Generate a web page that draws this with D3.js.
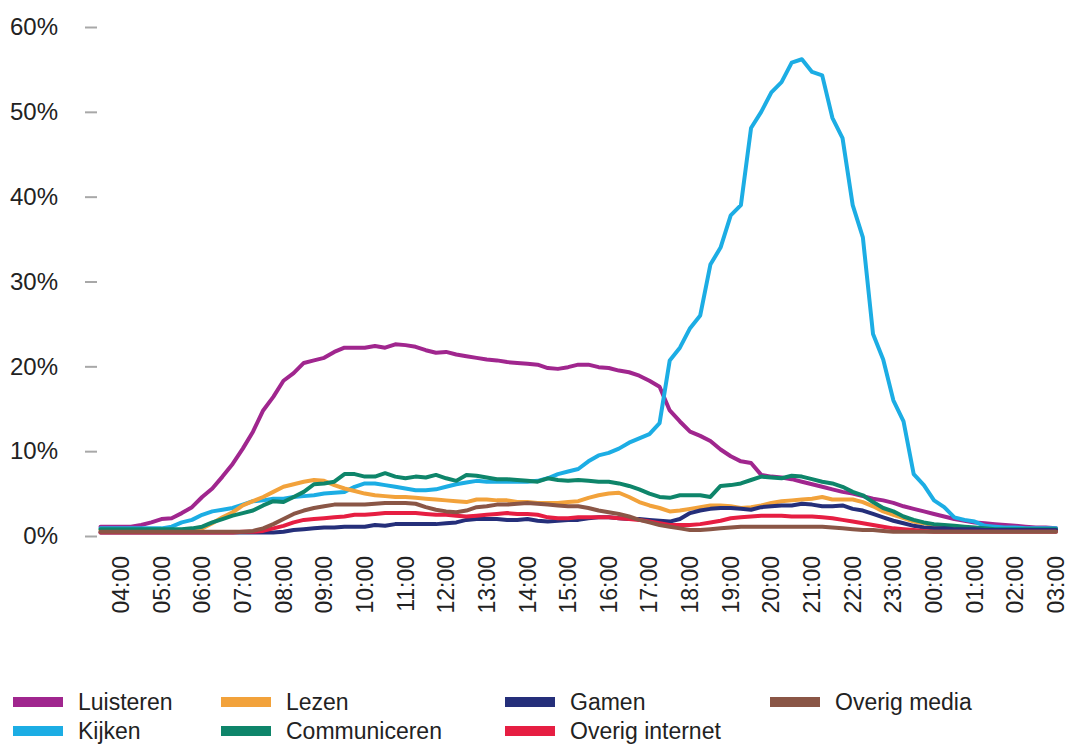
<!DOCTYPE html>
<html>
<head>
<meta charset="utf-8">
<script src="https://cdn.jsdelivr.net/npm/d3@7"></script>
<style>
    html, body { margin: 0; padding: 0; background: #fff; }
    svg { display: block; font-family: "Liberation Sans", Arial, sans-serif; }
</style>
</head>
<body>
<svg id="chart" width="1069" height="747"></svg>
<script>
// quarter-hour slots from 03:30 to 03:00 next day (hours, continuing past 24)
const START_HOUR = 3.5;
const STEP = 0.25;

const tickHours = [4, 5, 6, 7, 8, 9, 10, 11, 12, 13, 14, 15, 16, 17, 18, 19, 20, 21, 22, 23, 24, 25, 26, 27];
const tickLabels = ['04:00', '05:00', '06:00', '07:00', '08:00', '09:00', '10:00', '11:00', '12:00', '13:00',
    '14:00', '15:00', '16:00', '17:00', '18:00', '19:00', '20:00', '21:00', '22:00', '23:00',
    '00:00', '01:00', '02:00', '03:00'];
const yTicks = [0, 0.1, 0.2, 0.3, 0.4, 0.5, 0.6];

// percentages per quarter hour
const luisteren = [1.1, 1.1, 1.1, 1.1,
    1.3, 1.6, 2.0, 2.1, 2.7, 3.4, 4.6, 5.6, 7.0, 8.5,
    10.3, 12.3, 14.8, 16.4, 18.3, 19.2, 20.4, 20.7, 21.0, 21.7,
    22.2, 22.2, 22.2, 22.4, 22.2, 22.6, 22.5, 22.3, 21.9, 21.6,
    21.7, 21.4, 21.2, 21.0, 20.8, 20.7, 20.5, 20.4, 20.3, 20.2,
    19.8, 19.7, 19.9, 20.2, 20.2, 19.9, 19.8, 19.5, 19.3, 18.9,
    18.3, 17.6, 14.8, 13.5, 12.3, 11.8, 11.2, 10.2, 9.4, 8.8,
    8.6, 7.2, 7.0, 6.9, 6.7, 6.4, 6.1, 5.8, 5.5, 5.2,
    5.0, 4.7, 4.4, 4.2, 3.9, 3.5, 3.2, 2.9, 2.6, 2.3,
    2.0, 1.8, 1.6, 1.5, 1.4, 1.3, 1.2, 1.1, 1.0, 1.0, 0.9];
const kijken = [0.9, 0.9, 0.9, 0.9, 0.9, 0.9, 0.9,
    1.1, 1.6, 1.9, 2.5, 2.9, 3.1, 3.3,
    3.7, 4.1, 4.2, 4.4, 4.4, 4.6, 4.7, 4.8, 5.0, 5.1,
    5.2, 5.8, 6.2, 6.2, 6.0, 5.8, 5.6, 5.4, 5.4, 5.5,
    5.8, 6.1, 6.3, 6.5, 6.4, 6.4, 6.4, 6.4, 6.4, 6.5,
    6.8, 7.3, 7.6, 7.9, 8.8, 9.5, 9.8, 10.3, 11.0, 11.5,
    12.0, 13.3, 20.7, 22.2, 24.5, 26.0, 32.0, 34.0, 37.8, 39.0,
    48.1, 50.0, 52.3, 53.5, 55.8, 56.2, 54.7, 54.3, 49.3, 46.9,
    39.0, 35.2, 23.8, 20.8, 16.0, 13.5, 7.3, 6.0, 4.2, 3.4,
    2.2, 1.9, 1.7, 1.2, 1.1, 1.0, 1.0, 0.9, 0.9, 0.9, 0.9];
const lezen = [0.7, 0.7, 0.7, 0.7, 0.7, 0.7, 0.7, 0.7, 0.7, 0.7,
    0.9, 1.5, 2.2, 2.8, 3.6, 4.1, 4.6, 5.2, 5.8, 6.1, 6.4, 6.6, 6.5, 6.0,
    5.6, 5.3, 5.0, 4.8, 4.7, 4.6, 4.6, 4.5, 4.4, 4.3,
    4.2, 4.1, 4.0, 4.3, 4.3, 4.2, 4.2, 4.0, 4.0, 3.9,
    3.9, 3.9, 4.0, 4.1, 4.5, 4.8, 5.0, 5.1, 4.6, 4.0,
    3.6, 3.3, 2.9, 3.0, 3.2, 3.4, 3.6, 3.6, 3.5, 3.3,
    3.4, 3.6, 3.9, 4.1, 4.2, 4.3, 4.4, 4.6, 4.3, 4.3,
    4.3, 4.0, 3.5, 2.9, 2.5, 2.1, 1.7, 1.5, 1.3, 1.2,
    1.1, 1.0, 0.9, 0.8, 0.7, 0.7, 0.7, 0.7, 0.7, 0.7, 0.7];
const communiceren = [0.8, 0.8, 0.8, 0.8, 0.8, 0.8, 0.8, 0.8, 0.8, 0.9,
    1.1, 1.6, 2.0, 2.4, 2.7, 3.0, 3.6, 4.1, 4.0, 4.6, 5.2, 6.1, 6.2, 6.4,
    7.3, 7.3, 7.0, 7.0, 7.4, 7.0, 6.8, 7.0, 6.9, 7.2,
    6.8, 6.5, 7.2, 7.1, 6.9, 6.7, 6.7, 6.6, 6.5, 6.4,
    6.8, 6.6, 6.5, 6.6, 6.5, 6.4, 6.4, 6.2, 5.9, 5.5,
    5.0, 4.6, 4.5, 4.8, 4.8, 4.8, 4.6, 5.9, 6.0, 6.2,
    6.6, 7.0, 6.9, 6.8, 7.1, 7.0, 6.7, 6.4, 6.2, 5.8,
    5.2, 4.8, 4.0, 3.3, 2.9, 2.3, 1.9, 1.6, 1.4, 1.3,
    1.2, 1.1, 1.0, 0.9, 0.8, 0.8, 0.8, 0.8, 0.8, 0.8, 0.8];
const gamen = [0.4, 0.4, 0.4, 0.4, 0.4, 0.4, 0.4, 0.4, 0.4, 0.4, 0.4, 0.4, 0.4, 0.4, 0.4, 0.4, 0.4, 0.4,
    0.5, 0.7, 0.8, 0.9, 1.0, 1.0,
    1.1, 1.1, 1.1, 1.3, 1.2, 1.4, 1.4, 1.4, 1.4, 1.4,
    1.5, 1.6, 1.9, 2.0, 2.0, 2.0, 1.9, 1.9, 2.0, 1.8,
    1.7, 1.8, 1.9, 1.9, 2.1, 2.2, 2.2, 2.1, 2.0, 2.0,
    1.9, 1.8, 1.7, 2.0, 2.7, 3.0, 3.2, 3.3, 3.3, 3.2,
    3.1, 3.4, 3.5, 3.6, 3.6, 3.8, 3.7, 3.5, 3.5, 3.6,
    3.2, 3.0, 2.6, 2.2, 1.8, 1.5, 1.2, 1.0, 0.9, 0.9,
    0.8, 0.8, 0.8, 0.7, 0.7, 0.7, 0.7, 0.7, 0.7, 0.7, 0.7];
const overigInternet = [0.4, 0.4, 0.4, 0.4, 0.4, 0.4, 0.4, 0.4, 0.4, 0.4, 0.4, 0.4, 0.4, 0.4,
    0.5, 0.5, 0.6,
    0.9, 1.2, 1.6, 1.9, 2.0, 2.1, 2.2,
    2.3, 2.5, 2.5, 2.6, 2.7, 2.7, 2.7, 2.7, 2.6, 2.5,
    2.5, 2.4, 2.3, 2.4, 2.5, 2.6, 2.7, 2.6, 2.6, 2.5,
    2.2, 2.1, 2.1, 2.2, 2.2, 2.2, 2.2, 2.1, 2.0, 1.9,
    1.7, 1.5, 1.3, 1.3, 1.3, 1.4, 1.6, 1.8, 2.1, 2.2,
    2.3, 2.4, 2.4, 2.4, 2.3, 2.3, 2.3, 2.2, 2.1, 1.9,
    1.7, 1.5, 1.3, 1.1, 0.9, 0.8, 0.7, 0.6, 0.5, 0.5,
    0.5, 0.5, 0.5, 0.5, 0.5, 0.5, 0.5, 0.5, 0.5, 0.5, 0.5];
const overigMedia = [0.5, 0.5, 0.5, 0.5, 0.5, 0.5, 0.5, 0.5, 0.5, 0.5, 0.5, 0.5, 0.5, 0.5, 0.5,
    0.6, 0.9, 1.4, 2.0, 2.6, 3.0, 3.3, 3.5, 3.7,
    3.7, 3.7, 3.7, 3.8, 3.9, 3.9, 3.9, 3.8, 3.4, 3.1,
    2.9, 2.8, 3.0, 3.4, 3.5, 3.7, 3.7, 3.8, 3.9, 3.8,
    3.7, 3.6, 3.5, 3.5, 3.3, 3.0, 2.8, 2.6, 2.3, 1.9,
    1.6, 1.3, 1.1, 0.9, 0.7, 0.7, 0.8, 0.9, 1.0, 1.1,
    1.1, 1.1, 1.1, 1.1, 1.1, 1.1, 1.1, 1.1, 1.0, 0.9,
    0.8, 0.7, 0.7, 0.6, 0.5, 0.5, 0.5, 0.5, 0.5, 0.5,
    0.5, 0.5, 0.5, 0.5, 0.5, 0.5, 0.5, 0.5, 0.5, 0.5, 0.5];

// legend order (column-major), also drawing order
const seriesNames = ['Luisteren', 'Kijken', 'Lezen', 'Communiceren', 'Gamen', 'Overig internet', 'Overig media'];
const seriesValues = [luisteren, kijken, lezen, communiceren, gamen, overigInternet, overigMedia];
const seriesColors = ['#a0268e', '#1cade4', '#f2a23b', '#0e856a', '#252f7a', '#e61e42', '#8a5646'];

const svg = d3.select('#chart');
const FONT_SIZE = 24;
const X_FONT_SIZE = 23;
const LEGEND_FONT_SIZE = 23;

const x = d3.scaleLinear()
    .domain([START_HOUR, 27])
    .range([100.5, 1056]);

const y = d3.scaleLinear()
    .domain([0, 0.6])
    .range([536, 27]);

// y axis: short grey dashes, labels to the left
const yAxis = d3.axisLeft(y)
    .tickValues(yTicks)
    .tickFormat(d3.format('.0%'))
    .tickSize(12)
    .tickPadding(27);

const gy = svg.append('g')
    .attr('transform', 'translate(97,0)')
    .call(yAxis);
gy.select('.domain').remove();
gy.selectAll('.tick line').attr('stroke', '#a8a8a8').attr('stroke-width', 2);
gy.selectAll('.tick text')
    .attr('fill', '#222')
    .style('font-size', FONT_SIZE + 'px')
    .style('font-family', '"Liberation Sans", Arial, sans-serif');

// x axis: rotated hour labels
const xAxis = d3.axisBottom(x)
    .tickValues(tickHours)
    .tickFormat((d, i) => tickLabels[i])
    .tickSize(0);

const gx = svg.append('g')
    .attr('transform', 'translate(0,536)')
    .call(xAxis);
gx.select('.domain').remove();
gx.selectAll('.tick text')
    .attr('fill', '#222')
    .attr('transform', 'rotate(-90)')
    .attr('x', -20)
    .attr('y', 0)
    .attr('dy', '0.33em')
    .style('text-anchor', 'end')
    .style('font-size', X_FONT_SIZE + 'px')
    .style('font-family', '"Liberation Sans", Arial, sans-serif');

// lines
const line = d3.line()
    .x((d, i) => x(START_HOUR + i * STEP))
    .y(d => y(d / 100))
    .curve(d3.curveLinear);

seriesValues.forEach((values, i) => {
    svg.append('path')
        .attr('d', line(values))
        .attr('fill', 'none')
        .attr('stroke', seriesColors[i])
        .attr('stroke-width', 4)
        .attr('stroke-linejoin', 'round')
        .attr('stroke-linecap', 'round');
});

// legend, two rows
const legendCols = [13, 221, 505, 770];
const legendRows = [702, 731];

const legend = svg.append('g');
seriesNames.forEach((name, i) => {
    const col = Math.floor(i / 2);
    const row = i % 2;
    const lx = legendCols[col];
    const ly = legendRows[row];
    legend.append('rect')
        .attr('x', lx)
        .attr('y', ly - 5)
        .attr('width', 50)
        .attr('height', 10)
        .attr('fill', seriesColors[i]);
    legend.append('text')
        .attr('x', lx + 65)
        .attr('y', ly)
        .attr('dy', '0.36em')
        .attr('fill', '#222')
        .style('font-size', LEGEND_FONT_SIZE + 'px')
        .text(name);
});
</script>
</body>
</html>
